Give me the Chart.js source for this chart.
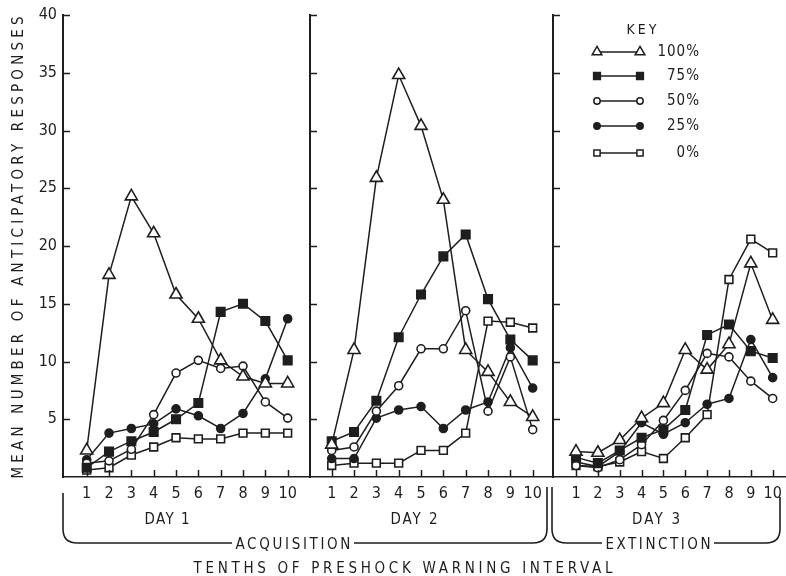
<!DOCTYPE html>
<html>
<head>
<meta charset="utf-8">
<script src="https://cdn.jsdelivr.net/npm/chart.js@4.4.1/dist/chart.umd.min.js"></script>
<style>
html,body{margin:0;padding:0;background:#fff;}
#wrap{position:relative;width:786px;height:576px;overflow:hidden;background:#fff;}
canvas.panel{position:absolute;top:0;}
.txt{position:absolute;font-family:"DejaVu Sans Condensed","DejaVu Sans",sans-serif;font-size:15px;color:#1e1e1e;white-space:nowrap;line-height:1;}
svg{position:absolute;left:0;top:0;}
</style>
</head>
<body>
<div id="wrap">
  <canvas id="c1" class="panel" width="310" height="576" style="left:0px"></canvas>
  <canvas id="c2" class="panel" width="253" height="576" style="left:300px"></canvas>
  <canvas id="c3" class="panel" width="243" height="576" style="left:543px"></canvas>
  <svg width="786" height="576" viewBox="0 0 786 576">
    <g fill="none" stroke="#1e1e1e" stroke-width="1.6">
      <path d="M63 493 L63 529 Q63 543 77 543 L232 543"/>
      <path d="M354 543 L533 543 Q547 543 547 529 L547 487"/>
      <path d="M552 487 L552 529 Q552 543 566 543 L602 543"/>
      <path d="M714 543 L766 543 Q780 543 780 529 L780 497"/>
    </g>
  </svg>
  <div class="txt" id="ytitle">MEAN NUMBER OF ANTICIPATORY RESPONSES</div>
  <div class="txt" id="day1">DAY 1</div>
  <div class="txt" id="day2">DAY 2</div>
  <div class="txt" id="day3">DAY 3</div>
  <div class="txt" id="acq">ACQUISITION</div>
  <div class="txt" id="ext">EXTINCTION</div>
  <div class="txt" id="xtitle">TENTHS OF PRESHOCK WARNING INTERVAL</div>
</div>
<script>
// ---- data ----
const TENTHS = [1, 2, 3, 4, 5, 6, 7, 8, 9, 10];
const SERIES = ['100%', '75%', '50%', '25%', '0%'];
const Y_TICKS = [5, 10, 15, 20, 25, 30, 35, 40];

const day1_100 = [2.3, 17.5, 24.3, 21.1, 15.8, 13.7, 10.1, 8.7, 8.1, 8.1];
const day1_75  = [0.8, 2.2, 3.1, 3.9, 5.0, 6.4, 14.3, 15.0, 13.5, 10.1];
const day1_50  = [1.2, 1.4, 2.4, 5.4, 9.0, 10.1, 9.4, 9.6, 6.5, 5.1];
const day1_25  = [1.5, 3.8, 4.2, 4.6, 5.9, 5.3, 4.2, 5.5, 8.5, 13.7];
const day1_0   = [0.6, 0.8, 1.9, 2.6, 3.4, 3.3, 3.3, 3.8, 3.8, 3.8];

const day2_100 = [2.8, 11.0, 25.9, 34.8, 30.4, 24.0, 11.0, 9.1, 6.5, 5.2];
const day2_75  = [3.1, 3.9, 6.6, 12.1, 15.8, 19.1, 21.0, 15.4, 11.9, 10.1];
const day2_50  = [2.3, 2.6, 5.7, 7.9, 11.1, 11.1, 14.4, 5.7, 10.4, 4.1];
const day2_25  = [1.6, 1.6, 5.1, 5.8, 6.1, 4.2, 5.8, 6.5, 11.2, 7.7];
const day2_0   = [1.0, 1.2, 1.2, 1.2, 2.3, 2.3, 3.8, 13.5, 13.4, 12.9];

const day3_100 = [2.2, 2.1, 3.2, 5.1, 6.4, 11.0, 9.3, 11.5, 18.5, 13.6];
const day3_75  = [1.7, 1.2, 2.3, 3.4, 4.1, 5.8, 12.3, 13.2, 10.9, 10.3];
const day3_50  = [1.0, 0.8, 1.5, 2.8, 4.9, 7.5, 10.7, 10.4, 8.3, 6.8];
const day3_25  = [1.3, 0.9, 2.2, 4.7, 3.7, 4.7, 6.3, 6.8, 11.9, 8.6];
const day3_0   = [1.0, 0.9, 1.3, 2.2, 1.6, 3.4, 5.4, 17.1, 20.6, 19.4];

// ---- styles ----
const INK = '#1e1e1e';
const FONT = '"DejaVu Sans Condensed","DejaVu Sans",sans-serif';
const STYLE = [
  {shape: 'triangle', r: 7, fill: '#ffffff'},
  {shape: 'rect', r: 6, fill: INK},
  {shape: 'circle', r: 4, fill: '#ffffff'},
  {shape: 'circle', r: 4, fill: INK},
  {shape: 'rect', r: 5.5, fill: '#ffffff'}
];

function makeDatasets(seriesValues) {
  return seriesValues.map((vals, i) => ({
    label: SERIES[i],
    data: TENTHS.map((t, j) => ({x: t, y: vals[j]})),
    borderColor: INK,
    borderWidth: 1.5,
    pointStyle: STYLE[i].shape,
    pointRadius: STYLE[i].r,
    pointBackgroundColor: STYLE[i].fill,
    pointBorderColor: INK,
    pointBorderWidth: 1.6,
    tension: 0,
    fill: false,
    clip: false
  }));
}

const tickMarks = {
  id: 'tickMarks',
  afterDraw(chart) {
    const {ctx, chartArea: {left, bottom}, scales: {x, y}} = chart;
    ctx.save();
    ctx.strokeStyle = INK;
    ctx.lineWidth = 1.5;
    ctx.beginPath();
    for (const v of Y_TICKS) {
      const py = Math.round(y.getPixelForValue(v)) + 0.5;
      ctx.moveTo(left, py); ctx.lineTo(left + 7, py);
    }
    for (const t of TENTHS) {
      const px = Math.round(x.getPixelForValue(t)) + 0.5;
      ctx.moveTo(px, bottom); ctx.lineTo(px, bottom - 7);
    }
    ctx.stroke();
    ctx.restore();
  }
};

const keyPlugin = {
  id: 'key',
  afterDraw(chart, args, opts) {
    if (!opts || !opts.show) return;
    const ctx = chart.ctx;
    const L = chart.chartArea.left;
    const rows = [52, 76, 101, 126, 153];
    ctx.save();
    ctx.fillStyle = INK;
    ctx.font = '14px ' + FONT;
    ctx.textBaseline = 'middle';
    ctx.textAlign = 'center';
    try { ctx.letterSpacing = '3px'; } catch (e) {}
    ctx.fillText('KEY', L + 90, 30);
    try { ctx.letterSpacing = '1px'; } catch (e) {}
    ctx.font = '15px ' + FONT;
    ctx.textAlign = 'right';
    chart.data.datasets.forEach((ds, i) => {
      const y = rows[i];
      ctx.strokeStyle = INK;
      ctx.lineWidth = 1.4;
      ctx.beginPath();
      ctx.moveTo(L + 44, y); ctx.lineTo(L + 87, y);
      ctx.stroke();
      const st = {pointStyle: ds.pointStyle, radius: ds.pointRadius * 0.8, borderWidth: 1.5, rotation: 0};
      ctx.fillStyle = ds.pointBackgroundColor;
      ctx.strokeStyle = INK;
      ctx.lineWidth = 1.5;
      Chart.helpers.drawPoint(ctx, st, L + 44, y);
      ctx.fillStyle = ds.pointBackgroundColor;
      ctx.strokeStyle = INK;
      Chart.helpers.drawPoint(ctx, st, L + 87, y);
      ctx.fillStyle = INK;
      ctx.fillText(ds.label, L + 147, y);
    });
    ctx.restore();
  }
};

function makeChart(id, seriesValues, cfg) {
  const el = document.getElementById(id);
  return new Chart(el, {
    type: 'line',
    data: {datasets: makeDatasets(seriesValues)},
    options: {
      responsive: false,
      animation: false,
      devicePixelRatio: 1,
      layout: {autoPadding: false, padding: {top: 15, left: 0, right: 0, bottom: 0}},
      plugins: {legend: {display: false}, tooltip: {enabled: false}, key: {show: !!cfg.key}},
      scales: {
        x: {
          type: 'linear', min: cfg.xmin, max: cfg.xmax,
          afterFit(s) { s.height = 99; s.paddingLeft = 0; s.paddingRight = 0; },
          ticks: {
            stepSize: 1, includeBounds: false, autoSkip: false, maxRotation: 0, minRotation: 0,
            padding: 0, color: INK, font: {family: FONT, size: 16, lineHeight: '34px'},
            callback: v => (v >= 1 && v <= 10 && Number.isInteger(v)) ? String(v) : ''
          },
          grid: {display: false, drawTicks: false},
          border: {display: true, color: INK, width: 1.5}
        },
        y: {
          min: 0, max: 40,
          afterFit(s) { s.width = cfg.yw; s.paddingTop = 0; s.paddingBottom = 0; },
          ticks: {
            display: !!cfg.ylabels, stepSize: 5, padding: 6, color: INK,
            font: {family: FONT, size: 16},
            callback: v => v === 0 ? '' : String(v)
          },
          grid: {display: false, drawTicks: false},
          border: {display: true, color: INK, width: 2}
        }
      }
    },
    plugins: [tickMarks, keyPlugin]
  });
}

makeChart('c1', [day1_100, day1_75, day1_50, day1_25, day1_0], {xmin: -0.061, xmax: 11.0, yw: 63, ylabels: true});
makeChart('c2', [day2_100, day2_75, day2_50, day2_25, day2_0], {xmin: 0.028, xmax: 10.91, yw: 10});
makeChart('c3', [day3_100, day3_75, day3_50, day3_25, day3_0], {xmin: -0.053, xmax: 10.61, yw: 10, key: true});

// ---- outer text placement (letter-spaced to fit the reference widths) ----
function place(id, cx, cy, targetW, rotate) {
  const el = document.getElementById(id);
  el.style.letterSpacing = '0px';
  const w0 = el.getBoundingClientRect().width;
  const h0 = el.getBoundingClientRect().height;
  const n = el.textContent.length;
  const ls = Math.max(0, (targetW - w0) / (n - 1));
  el.style.letterSpacing = ls.toFixed(2) + 'px';
  const W = w0 + n * ls;
  el.style.left = (cx - (W - ls) / 2) + 'px';
  el.style.top = (cy - h0 / 2) + 'px';
  if (rotate) {
    el.style.transformOrigin = ((W - ls) / 2) + 'px ' + (h0 / 2) + 'px';
    el.style.transform = 'rotate(-90deg)';
  }
}
place('ytitle', 18, 247, 462, true);
place('day1', 167, 519, 45);
place('day2', 414, 519, 47);
place('day3', 656, 519, 48);
place('acq', 293, 544, 115);
place('ext', 658, 544, 105);
place('xtitle', 403, 568, 419);
</script>
</body>
</html>
